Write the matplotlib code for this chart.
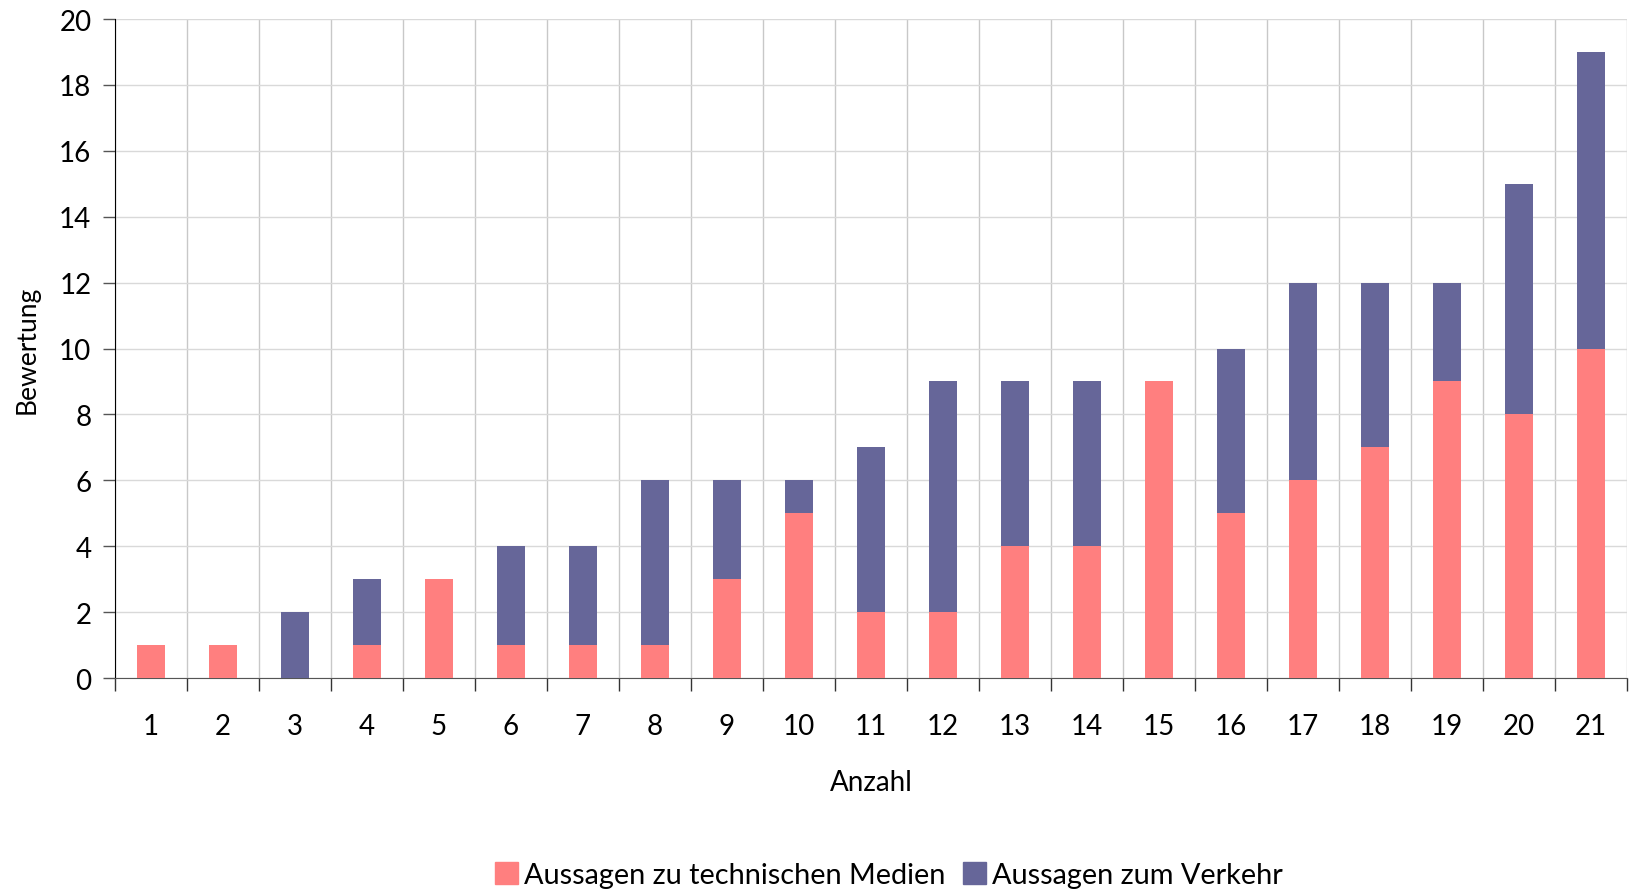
import numpy as np
import matplotlib.pyplot as plt
from matplotlib.patches import Patch

plt.rcParams['font.family'] = ['Lato', 'DejaVu Sans']

categories = [str(i) for i in range(1, 22)]
medien = [1, 1, 0, 1, 3, 1, 1, 1, 3, 5, 2, 2, 4, 4, 9, 5, 6, 7, 9, 8, 10]
verkehr = [0, 0, 2, 2, 0, 3, 3, 5, 3, 1, 5, 7, 5, 5, 0, 5, 6, 5, 3, 7, 9]
series_names = ['Aussagen zu technischen Medien', 'Aussagen zum Verkehr']
colors = ['#FF7F7F', '#666699']

fig = plt.figure(figsize=(16.36, 8.95), dpi=100)
ax = fig.add_axes([115 / 1636, 1 - 679 / 895, (1627 - 115) / 1636, (679 - 20) / 895])

x = np.arange(len(categories))
ax.bar(x, medien, width=0.4, color=colors[0], zorder=3)
ax.bar(x, verkehr, width=0.4, bottom=medien, color=colors[1], zorder=3)

ax.set_xlim(-0.5, len(categories) - 0.5)
ax.set_ylim(0, 20)
ax.set_yticks(np.arange(0, 21, 2))
ax.set_xticks(x)
ax.set_xticklabels(categories)
ax.set_xticks(np.arange(-0.5, len(categories), 1), minor=True)
ax.tick_params(axis='x', which='major', length=0, pad=25, labelsize=20)
ax.tick_params(axis='x', which='minor', length=9, width=1, color='#333333')
ax.tick_params(axis='y', length=9, width=1, color='#555555', labelsize=20, pad=8)

ax.grid(True, axis='y', color='#d9d9d9', linewidth=1, zorder=0)
ax.grid(True, axis='x', which='minor', color='#c8c8c8', linewidth=1, zorder=0)
for s in ['top', 'right']:
    ax.spines[s].set_visible(False)
ax.spines['left'].set_color('black')
ax.spines['bottom'].set_color('#555555')

ax.set_xlabel('Anzahl', fontsize=20, labelpad=22)
ax.set_ylabel('Bewertung', fontsize=19, labelpad=14)

handles = [Patch(color=c) for c in colors]
fig.legend(handles, series_names, loc='center', bbox_to_anchor=(889 / 1636, 1 - 876 / 895),
           ncol=2, frameon=False, fontsize=20.8, handlelength=0.8, handleheight=0.8,
           handletextpad=0.2, columnspacing=0.6)

fig.savefig('out.png', dpi=100)
